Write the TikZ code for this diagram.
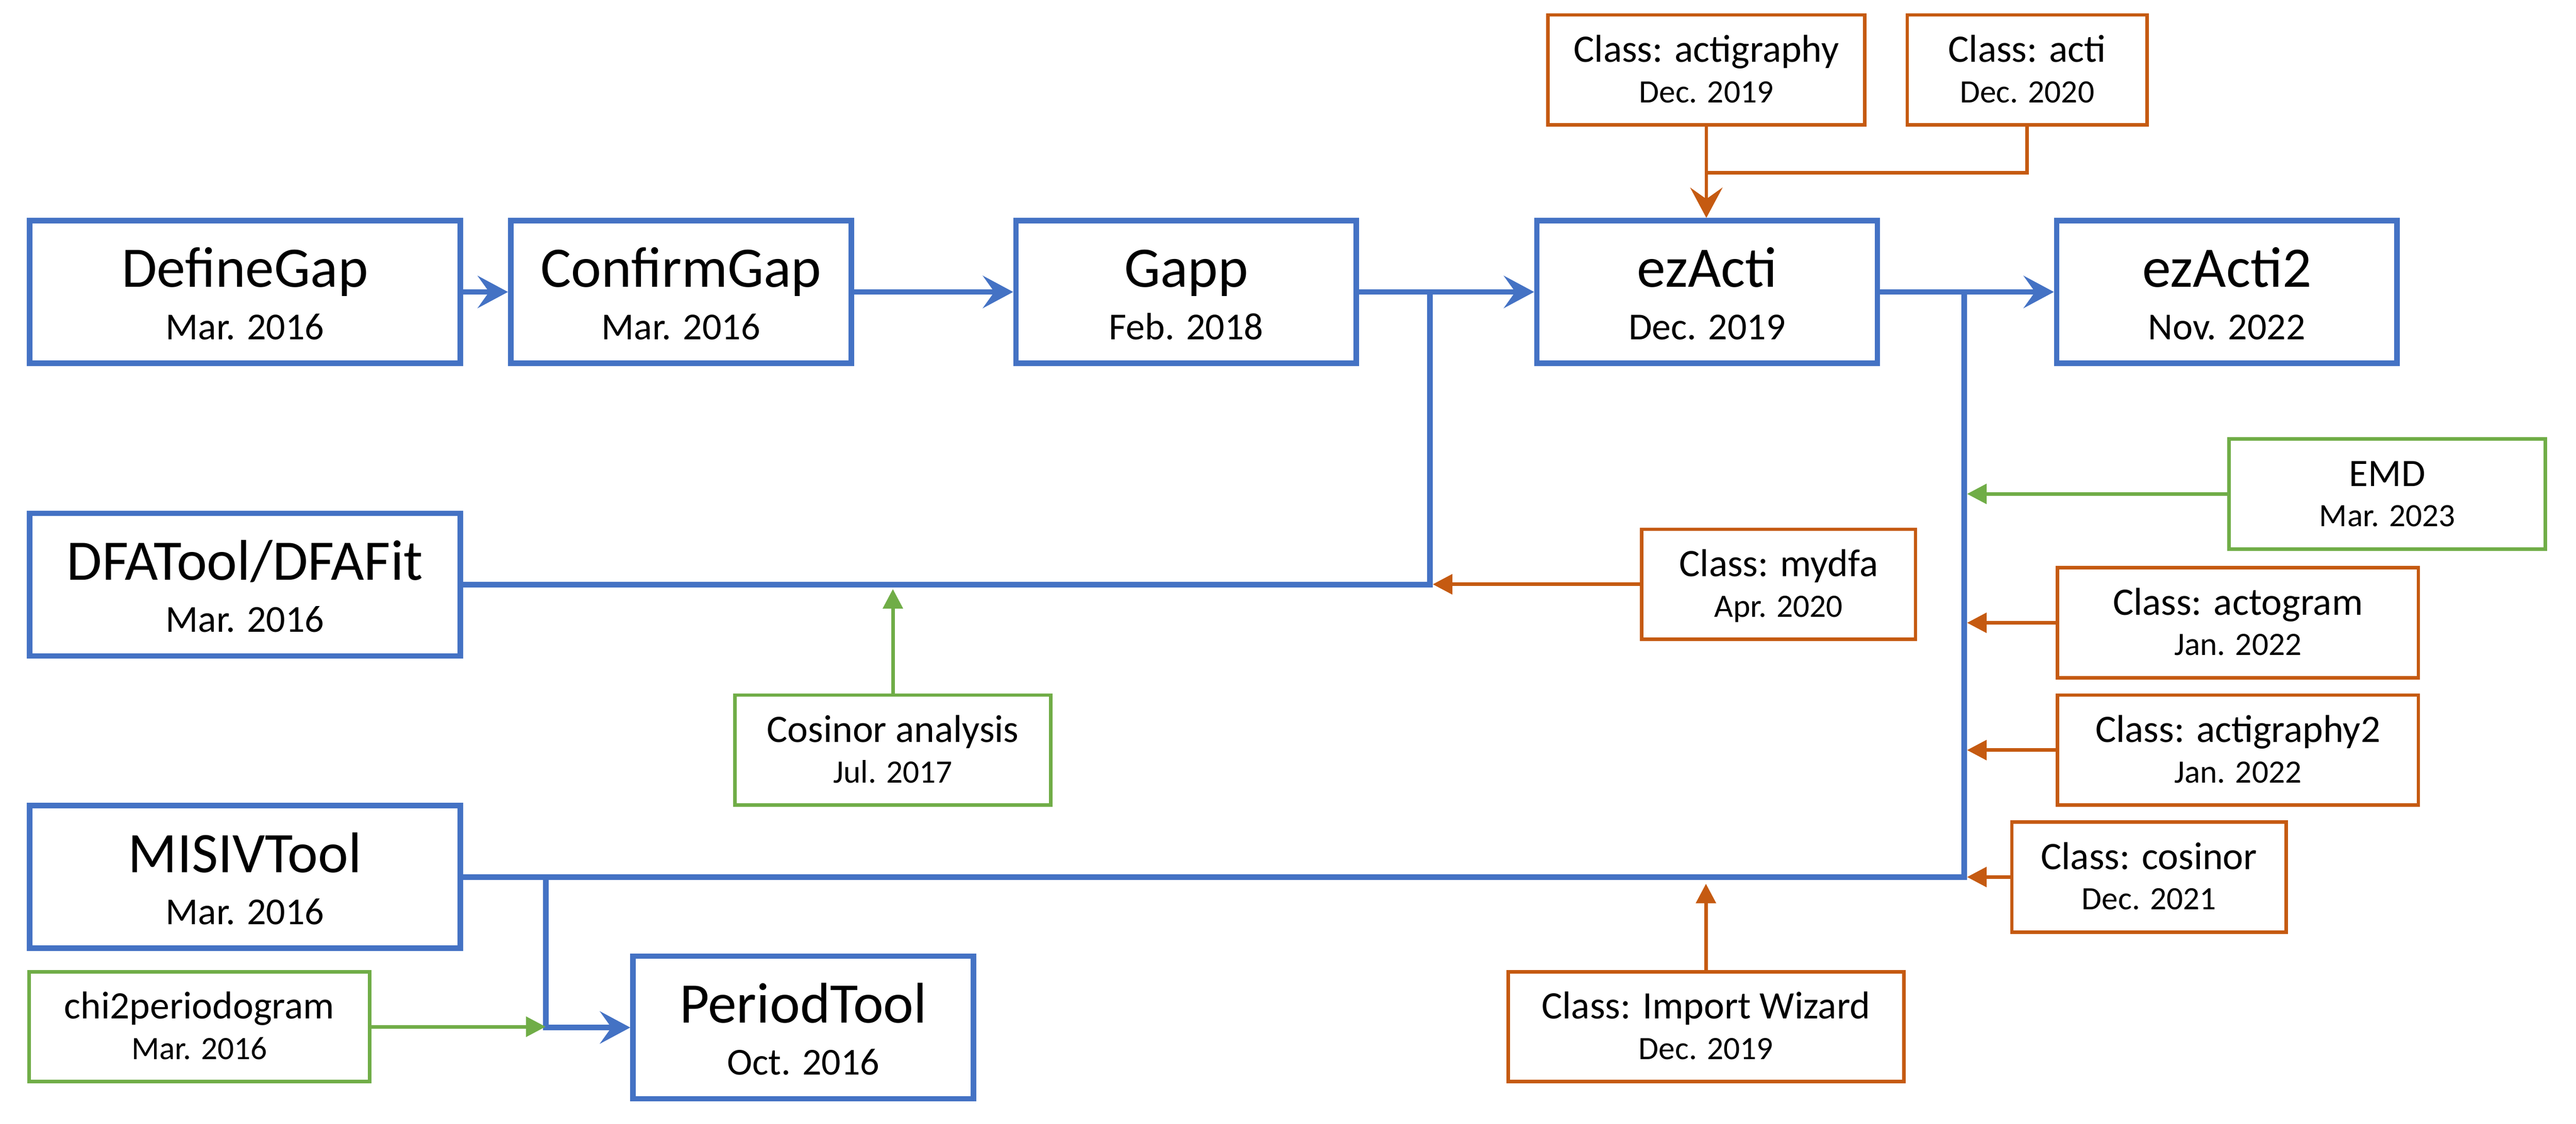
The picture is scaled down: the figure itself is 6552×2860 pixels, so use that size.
\documentclass[tikz,border=0pt]{standalone}
\usepackage{fontspec}
\setmainfont{Carlito}
\usepackage{tikz}
\usetikzlibrary{arrows.meta}

\definecolor{toolblue}{HTML}{4472C4}
\definecolor{classorange}{HTML}{C55A11}
\definecolor{funcgreen}{HTML}{70AD47}

% two-line box texts: name on top, date below
\newcommand{\maintxt}[2]{{\fontsize{14.6}{13.3}\selectfont\rule{0pt}{13pt}#1}\\\rule[-2.1pt]{0pt}{2.1pt}#2}
\newcommand{\smalltxt}[2]{{\fontsize{9.9}{10.3}\selectfont\rule{0pt}{9pt}#1}\\\rule[-2.7pt]{0pt}{2.7pt}#2}

\begin{document}
\begin{tikzpicture}[x=0.1pt,y=-0.1pt]
        \useasboundingbox (0,0) rectangle (6552,2860);

        \tikzstyle{tool}=[draw=toolblue,line width=1.4pt,inner sep=0pt,
        minimum width=86.6pt,minimum height=36.3pt,align=center,
        font=\fontsize{9.7}{13.3}\selectfont]
        \tikzstyle{wide}=[minimum width=109.5pt]
        \tikzstyle{cls}=[draw=classorange,line width=0.9pt,inner sep=0pt,
        minimum height=28pt,align=center,font=\fontsize{8.3}{10.3}\selectfont]
        \tikzstyle{func}=[cls,draw=funcgreen]
        \tikzstyle{flow}=[draw=toolblue,line width=1.4pt]
        \tikzstyle{bigtip}=[-{Stealth[length=7.7pt,width=8.2pt,inset=2.9pt]}]
        \tikzstyle{smalltip}=[-{Triangle[length=5pt,width=5pt]}]
        \tikzstyle{clsline}=[draw=classorange,line width=0.9pt]
        \tikzstyle{funcline}=[draw=funcgreen,line width=0.9pt]

        %% Main tools
        \node[tool,wide] (definegap) at (623,743) {\maintxt{DefineGap}{Mar. 2016}};
        \node[tool] (confirmgap) at (1732,743) {\maintxt{ConfirmGap}{Mar. 2016}};
        \node[tool] (gapp) at (3017,743) {\maintxt{Gapp}{Feb. 2018}};
        \node[tool] (ezacti) at (4342,743) {\maintxt{ezActi}{Dec. 2019}};
        \node[tool] (ezacti2) at (5664,743) {\maintxt{ezActi2}{Nov. 2022}};
        \node[tool,wide] (dfatool) at (623,1488) {\maintxt{DFATool/DFAFit}{Mar. 2016}};
        \node[tool,wide] (misivtool) at (623,2232) {\maintxt{MISIVTool}{Mar. 2016}};
        \node[tool] (periodtool) at (2043,2615) {\maintxt{PeriodTool}{Oct. 2016}};

        %% Classes and functions
        \node[cls,minimum width=80.5pt] (actigraphy) at (4340,178) {\smalltxt{Class: actigraphy}{Dec. 2019}};
        \node[cls,minimum width=61pt] (acti) at (5156,178) {\smalltxt{Class: acti}{Dec. 2020}};
        \node[cls,minimum width=69.6pt] (mydfa) at (4524,1487) {\smalltxt{Class: mydfa}{Apr. 2020}};
        \node[func,minimum width=80.5pt] (emd) at (6072,1257) {\smalltxt{EMD}{Mar. 2023}};
        \node[cls,minimum width=91.8pt] (actogram) at (5692,1585) {\smalltxt{Class: actogram}{Jan. 2022}};
        \node[cls,minimum width=91.8pt] (actigraphy2) at (5692,1909) {\smalltxt{Class: actigraphy2}{Jan. 2022}};
        \node[cls,minimum width=69.8pt] (cosinor) at (5466,2232) {\smalltxt{Class: cosinor}{Dec. 2021}};
        \node[cls,minimum width=100.6pt] (importwizard) at (4339,2613) {\smalltxt{Class: Import Wizard}{Dec. 2019}};
        \node[func,minimum width=80.4pt] (cosinoranalysis) at (2271,1909) {\smalltxt{Cosinor analysis}{Jul. 2017}};
        \node[func,minimum width=86.7pt] (chiperiod) at (507,2613) {\smalltxt{chi2periodogram}{Mar. 2016}};

        %% Junctions
        \coordinate (join1) at (3637,743);
        \coordinate (join2) at (4996,743);
        \coordinate (branch) at (1388,2232);
        \coordinate (merge) at (4340,440);

        %% Main line
        \path[flow,bigtip] (definegap) -- (confirmgap);
        \path[flow,bigtip] (confirmgap) -- (gapp);
        \path[flow,bigtip] (gapp) -- (ezacti);
        \path[flow,bigtip] (ezacti) -- (ezacti2);
        \path[flow] (dfatool.east) -| (join1);
        \path[flow] (misivtool.east) -| (join2);
        \path[flow,bigtip] (branch) |- (periodtool.west);

        %% Classes into ezActi
        \path[clsline] (acti.south) |- (merge);
        \path[clsline,bigtip] (actigraphy.south) -- (actigraphy.south |- ezacti.north);
        \path[clsline,smalltip,shorten >=0.7pt] (mydfa.west) -- (mydfa.west -| join1);
        \path[funcline,smalltip,shorten >=0.7pt] (emd.west) -- (emd.west -| join2);
        \path[clsline,smalltip,shorten >=0.7pt] (actogram.west) -- (actogram.west -| join2);
        \path[clsline,smalltip,shorten >=0.7pt] (actigraphy2.west) -- (actigraphy2.west -| join2);
        \path[clsline,smalltip,shorten >=0.7pt] (cosinor.west) -- (cosinor.west -| join2);
        \path[clsline,smalltip,shorten >=1.7pt] (importwizard.north) -- (importwizard.north |- misivtool.east);
        \path[funcline,smalltip,shorten >=1.1pt] (cosinoranalysis.north) -- (cosinoranalysis.north |- dfatool.east);
        \path[funcline,smalltip] (chiperiod.east) -- (chiperiod.east -| branch);

\end{tikzpicture}
\end{document}
